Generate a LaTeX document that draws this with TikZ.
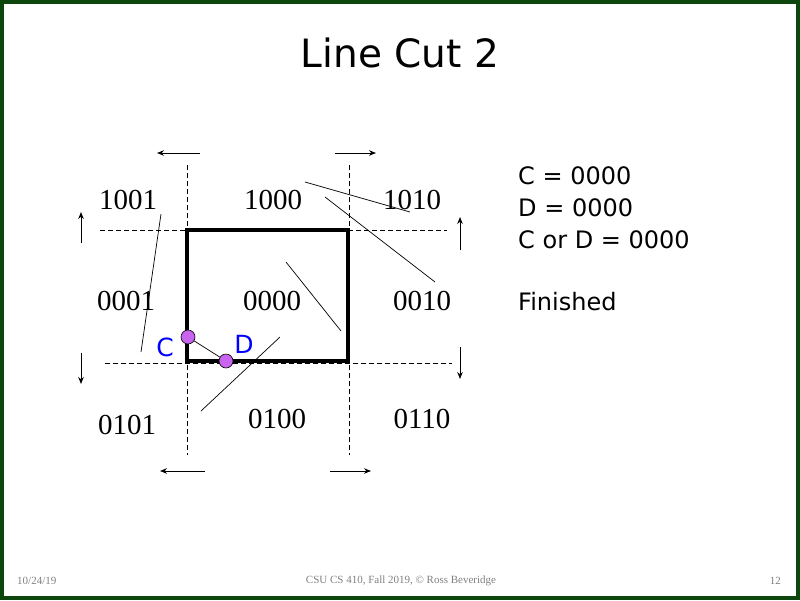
\documentclass[tikz,border=0pt]{standalone}
\usepackage{fontspec}
\setmainfont{Liberation Serif}
\newfontfamily\slidefont{DejaVu Sans}
\usetikzlibrary{arrows, arrows.meta, positioning, calc}
\definecolor{framegreen}{RGB}{12,70,12}
\definecolor{ptviolet}{RGB}{200,100,240}
\tikzstyle{region} = [font=\fontsize{29}{30}\selectfont, inner sep=0pt]
\tikzstyle{clipline} = [dash pattern=on 5pt off 3pt, line width=0.8pt]
\tikzstyle{window} = [line width=3.5pt]
\tikzstyle{arrow} = [line width=0.9pt,->,>={Stealth[length=7pt,width=5.5pt]}]
\tikzstyle{segment} = [line width=0.7pt]
\tikzstyle{endpoint} = [circle, draw, fill=ptviolet, minimum size=14pt, inner sep=0pt, line width=0.6pt]
\tikzstyle{ptlabel} = [font=\slidefont\fontsize{25}{25}\selectfont, text=blue, inner sep=0pt]
\tikzstyle{status} = [font=\slidefont\fontsize{24}{24}\selectfont, anchor=west, inner sep=0pt]
\tikzstyle{footer} = [font=\fontsize{11}{12}\selectfont, text=gray, inner sep=0pt]

\begin{document}
\begin{tikzpicture}[x=1pt, y=-1pt]
    \useasboundingbox (0,0) rectangle (800,600);
    \draw [framegreen, line width=4pt] (2,2) rectangle (798,598);

    \node (title) at (400,53) {\slidefont\fontsize{39}{40}\selectfont Line Cut 2};

    % clipping boundaries
    \draw [clipline] (187,165) -- (187,455);
    \draw [clipline] (349,165) -- (349,455);
    \draw [clipline] (100,230) -- (447,230);
    \draw [clipline] (105,363) -- (452,363);
    \draw [window] (187,230) rectangle (348,361);

    % outcode bit directions
    \draw [arrow] (200,153) -- (157,153);
    \draw [arrow] (335,153) -- (376,153);
    \draw [arrow] (205,471) -- (160,471);
    \draw [arrow] (330,471) -- (371,471);
    \draw [arrow] (81,243) -- (81,212);
    \draw [arrow] (81,353) -- (81,384);
    \draw [arrow] (460,250) -- (460,217);
    \draw [arrow] (460,347) -- (460,379);

    % region codes
    \node (r1001) [region] at (128,200) {1001};
    \node (r1000) [region] at (273,200) {1000};
    \node (r1010) [region] at (412,200) {1010};
    \node (r0001) [region] at (126,301) {0001};
    \node (r0000) [region] at (272,301) {0000};
    \node (r0010) [region] at (422,301) {0010};
    \node (r0101) [region] at (127,425) {0101};
    \node (r0100) [region] at (277,419) {0100};
    \node (r0110) [region] at (422,419) {0110};

    % other test lines
    \draw [segment] (305,182) -- (410,212);
    \draw [segment] (325,197) -- (435,282);
    \draw [segment] (286,262) -- (341,331);
    \draw [segment] (161,214) -- (141,352);
    \draw [segment] (280,337) -- (201,411);

    % clipped line C-D
    \node (C) [endpoint] at (188,337) {};
    \node (D) [endpoint] at (226,361) {};
    \draw [segment] (C) -- (D);
    \node (labelC) [ptlabel] at (165,347) {C};
    \node (labelD) [ptlabel] at (244,344) {D};

    \node (codeC) [status] at (518,176) {C = 0000};
    \node (codeD) [status] at (518,208) {D = 0000};
    \node (codeCD) [status] at (518,240) {C or D = 0000};
    \node (done) [status] at (518,302) {Finished};

    \node (date) [footer, anchor=west] at (17,581) {10/24/19};
    \node (course) [footer] at (401,581) {CSU CS 410, Fall 2019, \textcopyright{} Ross Beveridge};
    \node (page) [footer, anchor=east] at (781,581) {12};
\end{tikzpicture}
\end{document}
